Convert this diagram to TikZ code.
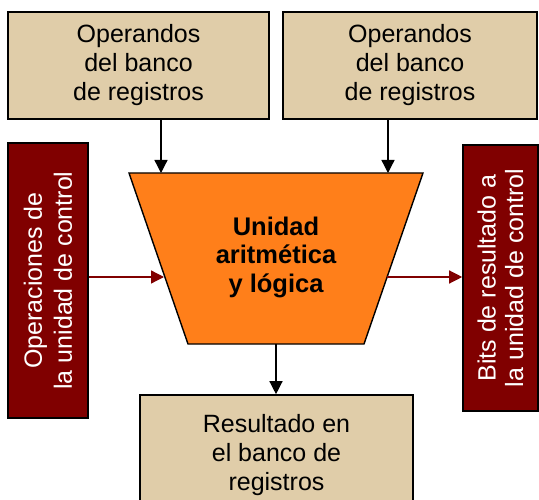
\documentclass[tikz,border=0pt]{standalone}
\usepackage{fontspec}
\setmainfont{Liberation Sans}
\usetikzlibrary{arrows.meta}
\definecolor{tan}{HTML}{E0CDA9}
\definecolor{maroon}{HTML}{800000}
\definecolor{alu}{HTML}{FF7F1A}
\tikzset{
  opbox/.style={draw=black, line width=1.6pt, fill=tan, inner sep=0pt, align=center,
    font=\fontsize{25}{29}\selectfont},
  ctlbox/.style={draw=black, line width=1.6pt, fill=maroon, inner sep=0pt, align=center,
    text=white, font=\fontsize{25}{28}\selectfont},
  blk/.style={line width=1.3pt, -{Triangle[length=13pt,width=13pt]}},
  red/.style={draw=maroon, line width=1.3pt, -{Triangle[length=13pt,width=13pt]}, color=maroon},
}
\begin{document}
\begin{tikzpicture}[x=1pt,y=-1pt]
\clip (0,0) rectangle (539,500);
\fill[white] (0,0) rectangle (539,500);
% boxes
\node[opbox, minimum width=261pt, minimum height=107pt] (opl) at (138.5,65.5)
  {Operandos\\del banco\\de registros};
\node[opbox, minimum width=254pt, minimum height=107pt] (opr) at (410,65.5)
  {Operandos\\del banco\\de registros};
\node[ctlbox, minimum width=80pt, minimum height=275pt] (ctl) at (48,280.5) {};
\node[rotate=90, text=white, align=center, font=\fontsize{25}{30}\selectfont] (ctltxt) at (ctl.center)
  {Operaciones de\\la unidad de control};
\node[ctlbox, minimum width=75pt, minimum height=266pt] (bits) at (500.5,278) {};
\node[rotate=90, text=white, align=center, font=\fontsize{25}{27.5}\selectfont] (bitstxt) at (bits.center)
  {Bits de resultado a\\la unidad de control};
\node[opbox, minimum width=273pt, minimum height=120pt] (res) at (276.5,455)
  {Resultado en\\el banco de\\registros};
% ALU
\draw[line width=1.4pt, fill=alu] (129,173) coordinate (aTL) -- (423,173) coordinate (aTR)
  -- (364,344) coordinate (aBR) -- (188,344) coordinate (aBL) -- cycle;
\node[align=center, font=\bfseries\fontsize{25.5}{28.5}\selectfont] (alutxt) at (276,257)
  {Unidad\\aritmética\\y lógica};
\coordinate (inA) at (161,173);
\coordinate (inB) at (388,173);
\coordinate (inC) at (164,277);
\coordinate (outF) at (387,277);
\coordinate (outR) at (276,344);
% connectors
\draw[blk] (inA |- opl.south) -- (inA);
\draw[blk] (inB |- opr.south) -- (inB);
\draw[red] (ctl.east |- inC) -- (inC);
\draw[red] (outF) -- (bits.west |- outF);
\draw[blk] (outR) -- (outR |- res.north);
\end{tikzpicture}
\end{document}
